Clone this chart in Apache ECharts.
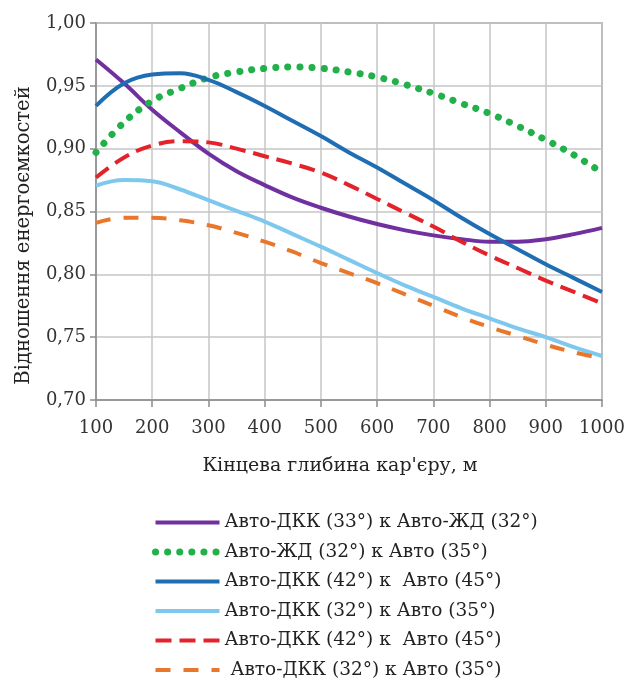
<!DOCTYPE html>
<html>
<head>
<meta charset="utf-8">
<script src="https://cdn.jsdelivr.net/npm/echarts@6/dist/echarts.min.js"></script>
<style>
  html, body { margin: 0; padding: 0; background: #fff; }
  #chart { width: 629px; height: 692px; }
</style>
</head>
<body>
<div id="chart"></div>
<script>
// глибина кар'єру, м
var depths = [100, 150, 200, 250, 300, 350, 400, 450, 500, 550, 600, 650, 700, 750, 800, 850, 900, 950, 1000];
// відношення енергоємкостей по кожній кривій
var dkk33_zhd32 = [0.971, 0.952, 0.931, 0.913, 0.896, 0.882, 0.871, 0.861, 0.853, 0.846, 0.840, 0.835, 0.831, 0.828, 0.826, 0.826, 0.828, 0.832, 0.837];
var zhd32_avto35 = [0.897, 0.921, 0.938, 0.948, 0.9565, 0.961, 0.9638, 0.965, 0.964, 0.961, 0.957, 0.951, 0.944, 0.936, 0.928, 0.918, 0.907, 0.895, 0.881];
var dkk42_avto45 = [0.934, 0.952, 0.959, 0.960, 0.9547, 0.945, 0.934, 0.922, 0.910, 0.897, 0.885, 0.872, 0.859, 0.845, 0.832, 0.820, 0.808, 0.797, 0.786];
var dkk32_avto35 = [0.8706, 0.875, 0.874, 0.8675, 0.859, 0.8505, 0.842, 0.832, 0.822, 0.8115, 0.801, 0.791, 0.782, 0.773, 0.765, 0.757, 0.750, 0.742, 0.735];
var dkk42_avto45_b = [0.877, 0.893, 0.9025, 0.906, 0.905, 0.900, 0.894, 0.888, 0.881, 0.871, 0.860, 0.849, 0.838, 0.826, 0.815, 0.805, 0.795, 0.786, 0.777];
var dkk32_avto35_b = [0.841, 0.845, 0.845, 0.843, 0.839, 0.833, 0.826, 0.818, 0.809, 0.801, 0.793, 0.784, 0.775, 0.766, 0.758, 0.751, 0.744, 0.738, 0.733];

var names = [
	'Авто-ДКК (33°) к Авто-ЖД (32°)',
	'Авто-ЖД (32°) к Авто (35°)',
	'Авто-ДКК (42°) к  Авто (45°)',
	'Авто-ДКК (32°) к Авто (35°)',
	'Авто-ДКК (42°) к  Авто (45°)\u200b',
	' Авто-ДКК (32°) к Авто (35°)'
];

var font = 'DejaVu Serif';

var styles = [
	{ color: '#7030a0', width: 4, type: 'solid', cap: 'butt' },
	{ color: '#22b04b', width: 7, type: [0.1, 12], cap: 'round' },
	{ color: '#1f6db3', width: 4, type: 'solid', cap: 'butt' },
	{ color: '#7ec8ee', width: 4, type: 'solid', cap: 'butt' },
	{ color: '#e3232a', width: 4, type: [16, 8], cap: 'butt' },
	{ color: '#e8772c', width: 4, type: [15, 13], cap: 'butt' }
];

var values = [dkk33_zhd32, zhd32_avto35, dkk42_avto45, dkk32_avto35, dkk42_avto45_b, dkk32_avto35_b];

function pairs(ys) {
	return depths.map(function(x, i) { return [x, ys[i]]; });
}

var myChart = echarts.init(document.getElementById('chart'));

var option = {
	animation: false,
	textStyle: { fontFamily: font },
	grid: {
		left: 96,
		right: 27,
		top: 23,
		bottom: 292,
		show: true,
		borderColor: '#8c8c8c',
		borderWidth: 1.5
	},
	legend: {
		orient: 'vertical',
		left: 147,
		top: 508,
		itemWidth: 64,
		itemHeight: 14,
		itemGap: 10.5,
		data: names.map(function(n, i) {
			return {
				name: n,
				itemStyle: { opacity: 0 },
				lineStyle: { color: styles[i].color, width: styles[i].width, type: styles[i].type, cap: styles[i].cap }
			};
		}),
		textStyle: { fontFamily: font, fontSize: 18.5, color: '#222' }
	},
	xAxis: {
		type: 'value',
		min: 100,
		max: 1000,
		interval: 100,
		name: "Кінцева глибина кар'єру, м",
		nameLocation: 'middle',
		nameGap: 57,
		nameTextStyle: { fontFamily: font, fontSize: 19, color: '#222', padding: [0, 18, 0, 0] },
		axisLine: { lineStyle: { color: '#8c8c8c', width: 1.5 } },
		axisTick: { show: true, length: 7, lineStyle: { color: '#8c8c8c', width: 1.5 } },
		axisLabel: {
			fontFamily: font, fontSize: 18, color: '#333', margin: 19,
			formatter: function(v) { return String(v); }
		},
		splitLine: { lineStyle: { color: '#c6c6c6', width: 1.5 } }
	},
	yAxis: {
		type: 'value',
		min: 0.70,
		max: 1.00,
		interval: 0.05,
		name: 'Відношення енергоємкостей',
		nameLocation: 'middle',
		nameGap: 62,
		nameTextStyle: { fontFamily: font, fontSize: 19.5, color: '#222', padding: [0, 48, 0, 0] },
		axisLine: { show: true, lineStyle: { color: '#8c8c8c', width: 1.5 } },
		axisTick: { show: true, length: 6, lineStyle: { color: '#8c8c8c', width: 1.5 } },
		axisLabel: {
			fontFamily: font, fontSize: 18, color: '#333', margin: 10,
			formatter: function(v) { return v.toFixed(2).replace('.', ','); }
		},
		splitLine: { lineStyle: { color: '#c6c6c6', width: 1.5 } }
	},
	series: names.map(function(n, i) {
		return {
			name: n,
			type: 'line',
			smooth: 0.4,
			symbol: 'none',
			data: pairs(values[i]),
			lineStyle: styles[i],
			itemStyle: { color: styles[i].color }
		};
	})
};

myChart.setOption(option);
</script>
</body>
</html>
